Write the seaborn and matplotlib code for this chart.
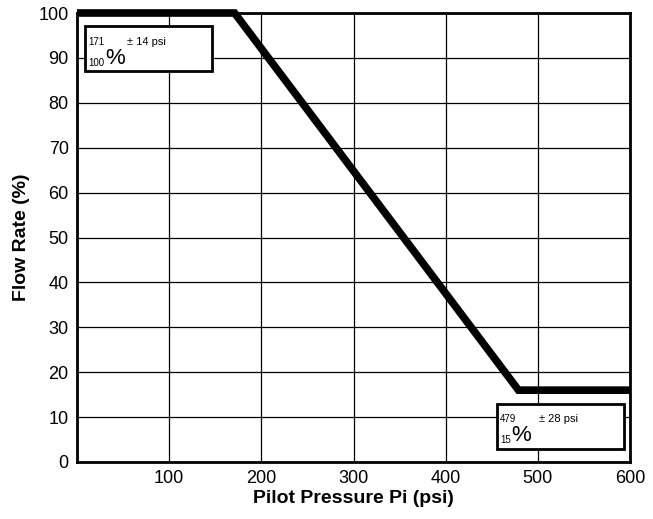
import matplotlib
matplotlib.use("Agg")
from matplotlib import pyplot as plt
from matplotlib.patches import Rectangle
import pandas as pd
import seaborn as sns

# curve knee points
pressure = [0, 171, 479, 600]
flow = [100, 100, 16, 16]

x_ticks = [100, 200, 300, 400, 500, 600]
y_ticks = list(range(0, 101, 10))

# annotation texts
top_note = ("171", "± 14 psi", "100")
bot_note = ("479", "± 28 psi", "15")

sns.set_style("white")
plt.rcParams["font.family"] = ["Liberation Sans Narrow", "Liberation Sans", "DejaVu Sans"]
plt.rcParams["text.color"] = "black"
plt.rcParams["axes.labelcolor"] = "black"
plt.rcParams["xtick.color"] = "black"
plt.rcParams["ytick.color"] = "black"

fig = plt.figure(figsize=(6.53, 5.19), dpi=100)
ax = fig.add_axes([77 / 653, 1 - 462 / 519, (630 - 77) / 653, (462 - 13) / 519])

df = pd.DataFrame({"p": pressure, "f": flow})
sns.lineplot(data=df, x="p", y="f", color="black", linewidth=5.5, ax=ax,
             zorder=3, solid_joinstyle="miter", solid_capstyle="butt", clip_on=False)

ax.set_xlim(0, 600)
ax.set_ylim(0, 100)
ax.set_xticks(x_ticks)
ax.set_yticks(y_ticks)
ax.grid(True, color="black", linewidth=0.9)
ax.tick_params(length=0, labelsize=13, pad=6)
for s in ax.spines.values():
    s.set_color("black")
    s.set_linewidth(2)

ax.set_xlabel("Pilot Pressure Pi (psi)", fontsize=14, fontweight="bold", labelpad=2)
ax.set_ylabel("Flow Rate (%)", fontsize=14, fontweight="bold", labelpad=6)


def note(x0, y0, w, h, txt):
    ax.add_patch(Rectangle((x0, y0), w, h, facecolor="white", edgecolor="black",
                           linewidth=2, zorder=4))
    ax.text(x0 + 3, y0 + h * 0.58, txt[0], fontsize=7, zorder=5, va="baseline",
            family="Liberation Sans")
    ax.text(x0 + 45, y0 + h * 0.58, txt[1], fontsize=8, zorder=5, va="baseline",
            family="Liberation Sans")
    t = ax.text(x0 + 3, y0 + h * 0.13, txt[2], fontsize=7, zorder=5, va="baseline",
                family="Liberation Sans")
    ax.annotate("%", xy=(1, 0), xycoords=t, fontsize=16, zorder=5, va="bottom",
                xytext=(0.5, -1), textcoords="offset points", family="Liberation Sans")


note(9, 87, 137, 10, top_note)
note(456, 3, 138, 10, bot_note)

fig.savefig("out.png", dpi=100)
